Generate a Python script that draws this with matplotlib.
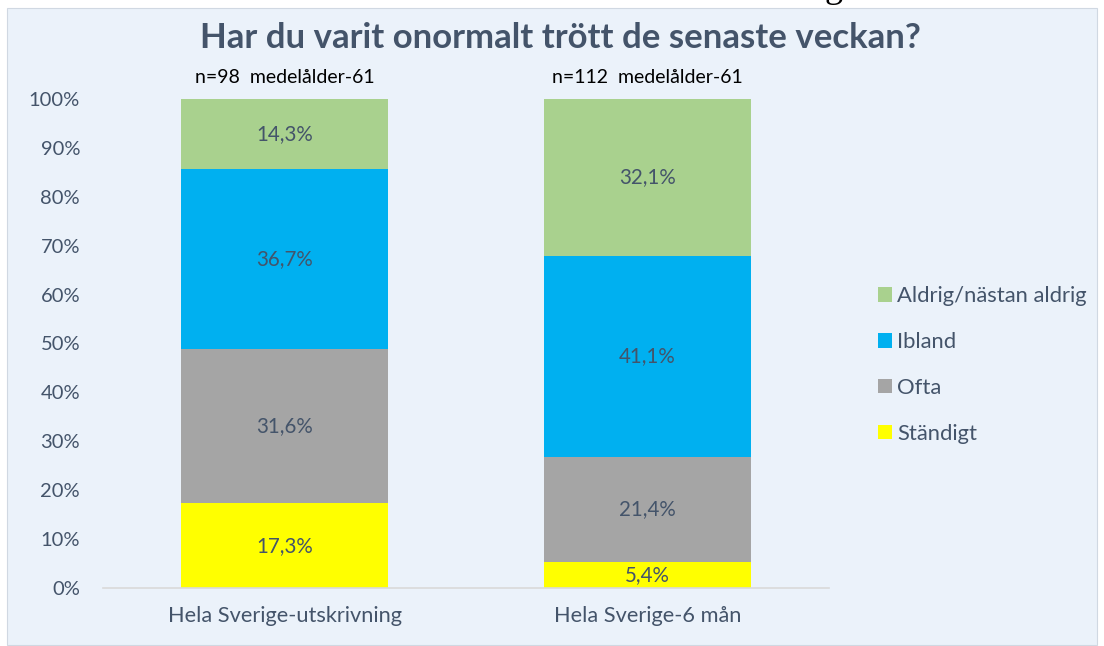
import matplotlib
matplotlib.use('Agg')
import numpy as np
from matplotlib import pyplot as plt
from matplotlib.patches import Rectangle, Patch

categories = ['Hela Sverige-utskrivning', 'Hela Sverige-6 mån']
series = ['Ständigt', 'Ofta', 'Ibland', 'Aldrig/nästan aldrig']
values = {
    'Ständigt': [17.3, 5.4],
    'Ofta': [31.6, 21.4],
    'Ibland': [36.7, 41.1],
    'Aldrig/nästan aldrig': [14.3, 32.1],
}
labels = {
    'Ständigt': ['17,3%', '5,4%'],
    'Ofta': ['31,6%', '21,4%'],
    'Ibland': ['36,7%', '41,1%'],
    'Aldrig/nästan aldrig': ['14,3%', '32,1%'],
}
notes = ['n=98  medelålder-61', 'n=112  medelålder-61']
yticks = [0, 10, 20, 30, 40, 50, 60, 70, 80, 90, 100]
title = 'Har du varit onormalt trött de senaste veckan?'

colors = {'Ständigt': '#FFFF00', 'Ofta': '#A5A5A5',
          'Ibland': '#00B0F0', 'Aldrig/nästan aldrig': '#A9D18E'}
txt = '#44546A'
bg = '#EBF2FA'

plt.rcParams['font.family'] = ['Lato', 'DejaVu Sans']

W, H = 1104, 646
fig = plt.figure(figsize=(W / 100, H / 100), dpi=100)
fig.patch.set_facecolor('white')
fig.add_artist(Rectangle((7 / W, 1 / H), 1090 / W, (H - 9) / H,
                         transform=fig.transFigure, facecolor=bg,
                         edgecolor='#D0D8E2', lw=0.8, zorder=-10))

ax = fig.add_axes([103 / W, (H - 588) / H, 726 / W, 489 / H])
ax.set_facecolor('none')

x = np.arange(len(categories))
bottom = np.zeros(len(categories))
for s in series:
    v = np.array(values[s])
    ax.bar(x, v, 0.57, bottom=bottom, color=colors[s], label=s, zorder=2)
    for xi, b, vi, lab in zip(x, bottom, v, labels[s]):
        ax.text(xi, b + vi / 2, lab, ha='center', va='center',
                fontsize=14.8, color=txt, zorder=3)
    bottom += v

ax.set_xlim(-0.5, 1.5)
ax.set_ylim(0, 100)
ax.set_yticks(yticks)
ax.set_yticklabels([f'{t}%' for t in yticks])
ax.set_xticks(x)
ax.set_xticklabels(categories)
ax.tick_params(axis='y', length=0, pad=16.5, labelsize=14.5, labelcolor=txt)
ax.tick_params(axis='x', length=0, pad=13, labelsize=15.7, labelcolor=txt)
for sp in ['top', 'right', 'left']:
    ax.spines[sp].set_visible(False)
ax.spines['bottom'].set_color('#D9D9D9')
ax.spines['bottom'].set_linewidth(1.2)

for xi, n in zip(x, notes):
    ax.text(xi, 104.3, n, ha='center', va='center', fontsize=14,
            color='black', clip_on=False)

fig.text(0.508, 1 - 38 / H, title, ha='center', va='center',
         fontsize=25, fontweight='bold', color=txt)
fig.text(834 / W, 1 + 3 / H, 'g', ha='center', va='baseline',
         fontsize=26, family='Liberation Serif', color='black')

handles = [Patch(facecolor=colors[s], label=s) for s in reversed(series)]
fig.legend(handles=handles, loc='center left',
           bbox_to_anchor=(858 / W, 1 - 365 / H), frameon=False,
           fontsize=15.8, labelcolor=txt, handlelength=0.64, handleheight=0.64,
           handletextpad=0.25, labelspacing=1.18)

fig.savefig('out.png', dpi=100, facecolor='white')
